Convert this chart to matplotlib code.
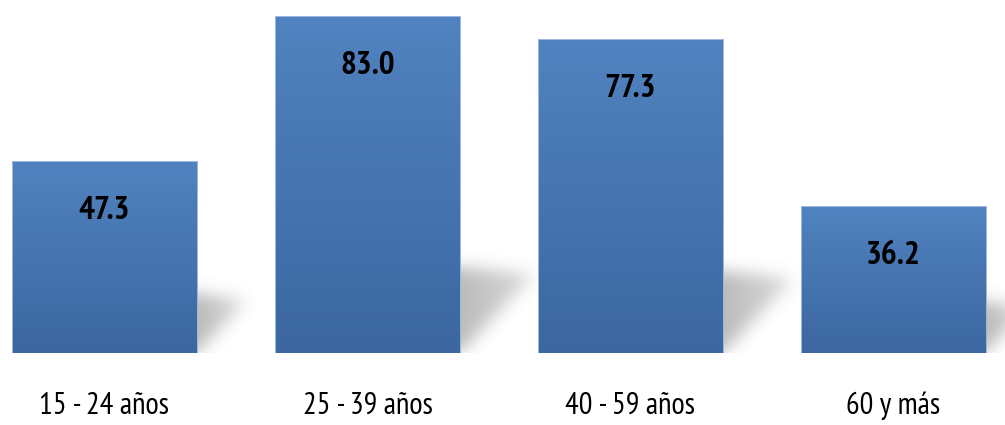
import numpy as np
import matplotlib
matplotlib.use("Agg")
from matplotlib import pyplot as plt

categories = ["15 - 24 años", "25 - 39 años", "40 - 59 años", "60 y más"]
values = [47.3, 83.0, 77.3, 36.2]

plt.rcParams['font.family'] = ['PT Sans Narrow', 'DejaVu Sans']

fig = plt.figure(figsize=(10.05, 4.25), dpi=100)
ax = fig.add_axes([0, 72 / 425, 1, 353 / 425])
x = np.arange(len(values))
w = 0.705
ax.set_xlim(-0.397, 3.424)
ax.set_ylim(0, 86.94)

top = np.array([80, 131, 192]) / 255
bot = np.array([60, 103, 160]) / 255
grad = np.linspace(0, 1, 200)[:, None, None]
grad_img = bot * (1 - grad) + top * grad  # row 0 = bottom

bars = ax.bar(x, values, width=w, color="none", edgecolor="none", zorder=3)

# pixels per data unit
sx = 263.0
sy = 4.06


def blur(a, s):
    r = int(3 * s)
    k = np.exp(-np.arange(-r, r + 1) ** 2 / (2 * s * s))
    k /= k.sum()
    a = np.apply_along_axis(lambda m: np.convolve(m, k, mode="same"), 0, a)
    a = np.apply_along_axis(lambda m: np.convolve(m, k, mode="same"), 1, a)
    return a


for b, v in zip(bars, values):
    x0 = b.get_x()
    x1 = x0 + b.get_width()
    im = ax.imshow(grad_img, extent=[x0, x1, 0, v], origin="lower",
                   aspect="auto", zorder=3, interpolation="bilinear")
    im.set_clip_path(b)
    ax.add_patch(plt.Rectangle((x0, 0), x1 - x0, v, fill=False,
                               edgecolor=(0.62, 0.73, 0.88), lw=0.7, zorder=4))

    # soft cast shadow to the right of each bar
    hp = v * sy
    up = 25 + 0.18 * hp
    R = 15 + 0.17 * hp
    pad = 30
    u = np.arange(-20, R + pad)
    vv = np.arange(-10, up + pad)
    U, V = np.meshgrid(u, vv)
    frac = np.clip(U / R, 0, 1)
    lower = (up - 10) * frac
    upper = up - 7 * frac
    mask = ((V >= lower) & (V <= upper) & (U <= R) & (V >= 0)).astype(float)
    alpha = blur(mask, 8.0) * (1 - 0.45 * frac) * 0.48
    rgba = np.zeros(alpha.shape + (4,))
    rgba[..., :3] = 0.45
    rgba[..., 3] = np.clip(alpha, 0, 1)
    ax.imshow(rgba, extent=[x1 + u[0] / sx, x1 + u[-1] / sx,
                            vv[0] / sy, vv[-1] / sy],
              origin="lower", aspect="auto", zorder=1,
              interpolation="bilinear")

    ax.annotate(f"{v:.1f}", xy=(b.get_x() + w / 2, v), xytext=(0, -36),
                textcoords="offset points", ha="center", va="center",
                fontsize=24, fontweight="bold", color="black", zorder=5)

ax.set_xlim(-0.397, 3.424)
ax.set_ylim(0, 86.94)
ax.set_xticks(x)
ax.set_xticklabels(categories, fontsize=22)
ax.tick_params(axis="x", length=0, pad=28)
ax.set_yticks([])
for s in ax.spines.values():
    s.set_visible(False)
ax.patch.set_alpha(0)

fig.savefig("out.png", dpi=100)
